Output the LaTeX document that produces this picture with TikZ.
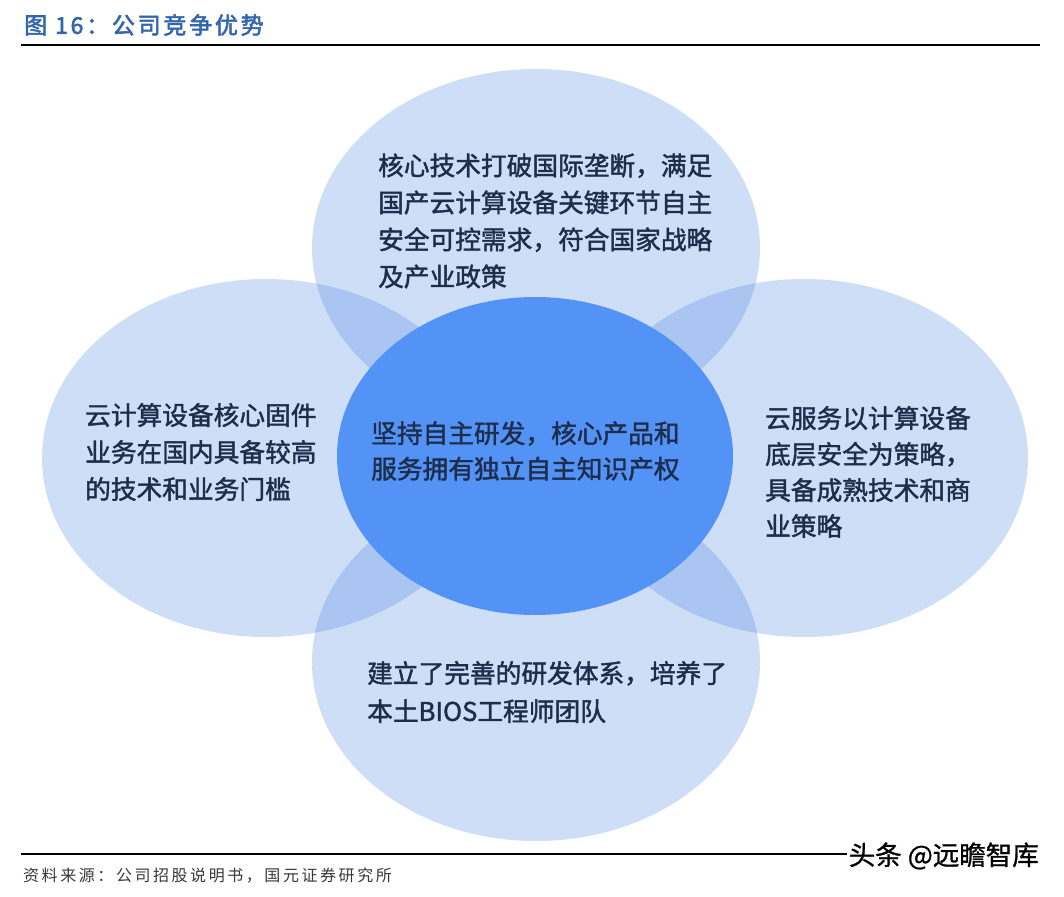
\documentclass[tikz,border=0pt]{standalone}
\usepackage{fontspec}
\setmainfont{Noto Sans CJK SC}
\newfontfamily\bodyf{Noto Sans CJK SC}[FakeBold=1.6]
\newfontfamily\titlef{Noto Sans CJK SC}[FakeBold=2.5,LetterSpace=12]
\newfontfamily\srcf{Noto Sans CJK SC}[LetterSpace=16]
\newfontfamily\wmf{Noto Sans CJK SC}[FakeBold=1]
\usetikzlibrary{shapes.geometric}
\definecolor{petal}{RGB}{46,112,220}
\definecolor{core}{RGB}{83,147,246}
\definecolor{ink}{RGB}{30,45,75}
\definecolor{titleblue}{RGB}{52,102,172}
\definecolor{srcgray}{RGB}{55,55,55}
\tikzset{
  petalshape/.style={ellipse, fill=petal, fill opacity=0.23, draw=none, inner sep=0pt,
    minimum width=448pt, minimum height=358pt},
  coreshape/.style={ellipse, fill=core, draw=none, inner sep=0pt,
    minimum width=396pt, minimum height=318pt},
  label/.style={anchor=west, inner sep=0pt, align=left, text=ink, font=\bodyf\fontsize{25.7}{37}\selectfont},
}
\begin{document}
\begin{tikzpicture}[x=1pt,y=-1pt]
\useasboundingbox (0,0) rectangle (1064,896);
% title
\node[anchor=west, inner sep=0pt, text=titleblue, font=\titlef\fontsize{23}{23}\selectfont] (title) at (24,25) {图 16：公司竞争优势};
\draw[line width=2pt] (21,45) -- (1040,45);
% petals
\node[petalshape] (ptop) at (536,248) {};
\node[petalshape] (pleft) at (266,458) {};
\node[petalshape] (pright) at (804,458) {};
\node[petalshape] (pbottom) at (536,662) {};
% core
\node[coreshape] (core) at (535,456) {};
% texts
\node[label] (ttop) at (378,221) {核心技术打破国际垄断，满足\\国产云计算设备关键环节自主\\安全可控需求，符合国家战略\\及产业政策};
\node[label] (tleft) at (85,452) {云计算设备核心固件\\业务在国内具备较高\\的技术和业务门槛};
\node[label, font=\bodyf\fontsize{25.7}{35.5}\selectfont] (tcore) at (371,451) {坚持自主研发，核心产品和\\服务拥有独立自主知识产权};
\node[label, font=\bodyf\fontsize{25.7}{36}\selectfont] (tright) at (765,472) {云服务以计算设备\\底层安全为策略，\\具备成熟技术和商\\业策略};
\node[label, font=\bodyf\fontsize{25.7}{38}\selectfont] (tbottom) at (367,692) {建立了完善的研发体系，培养了\\本土BIOS工程师团队};
% footer
\draw[line width=2pt] (21,854) -- (1040,854);
\node[anchor=west, inner sep=0pt, text=srcgray, font=\srcf\fontsize{16}{16}\selectfont] (source) at (23,876) {资料来源：公司招股说明书，国元证券研究所};
\node[anchor=east, fill=white, inner xsep=2pt, inner ysep=1pt, text=black, font=\wmf\fontsize{26.5}{26.5}\selectfont] (mark) at (1041,856) {头条 @远瞻智库};
\end{tikzpicture}
\end{document}
